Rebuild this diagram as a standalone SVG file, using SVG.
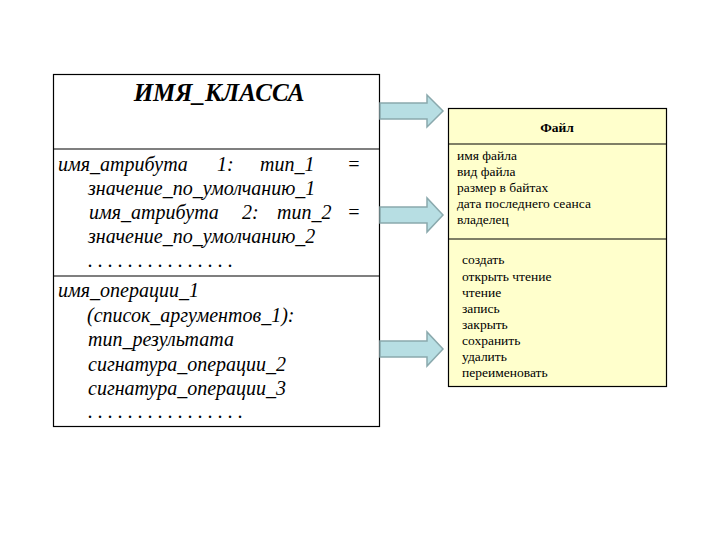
<svg xmlns="http://www.w3.org/2000/svg" width="720" height="540" viewBox="0 0 720 540">
<style>
.box{fill:#fff;stroke:#000;stroke-width:1.2}
.fbox{fill:#FFFFCC;stroke:#000;stroke-width:1.2}
.line{stroke:#000;stroke-width:1.2}
.it{font-style:italic;font-size:20px;fill:#000}
.ttl{font-style:italic;font-weight:bold;font-size:25px;fill:#000}
.sm{font-size:13.5px;fill:#000}
.smb{font-size:13.5px;font-weight:bold;fill:#000}
.arr{fill:#B7DEE3;stroke:#8AA9AD;stroke-width:1.5}
</style>
<rect width="720" height="540" fill="#fff"/>
<g id="class-template" font-family="Liberation Serif, serif">
<rect class="box" x="53.5" y="74.5" width="326" height="352"/>
<line class="line" x1="53.5" y1="149" x2="379.5" y2="149"/>
<line class="line" x1="53.5" y1="276" x2="379.5" y2="276"/>
<text class="ttl" x="219" y="101" text-anchor="middle">ИМЯ_КЛАССА</text>
<text class="it" x="58" y="171">имя_атрибута</text>
<text class="it" x="217" y="171">1:</text>
<text class="it" x="260" y="171">тип_1</text>
<text class="it" x="347" y="171">=</text>
<text class="it" x="88" y="195">значение_по_умолчанию_1</text>
<text class="it" x="89" y="219">имя_атрибута</text>
<text class="it" x="242" y="219">2:</text>
<text class="it" x="277" y="219">тип_2</text>
<text class="it" x="347" y="219">=</text>
<text class="it" x="88" y="243">значение_по_умолчанию_2</text>
<text class="it" x="88" y="267">. . . . . . . . . . . . . . .</text>
<text class="it" x="58" y="297">имя_операции_1</text>
<text class="it" x="87" y="322">(список_аргументов_1):</text>
<text class="it" x="88" y="346">тип_результата</text>
<text class="it" x="88" y="371">сигнатура_операции_2</text>
<text class="it" x="88" y="395">сигнатура_операции_3</text>
<text class="it" x="88" y="418">. . . . . . . . . . . . . . . .</text>
</g>
<g id="file-class" font-family="Liberation Serif, serif">
<rect class="fbox" x="448.5" y="108.5" width="218" height="278"/>
<line class="line" x1="448.5" y1="144" x2="666.5" y2="144"/>
<line class="line" x1="448.5" y1="239" x2="666.5" y2="239"/>
<text class="smb" x="557" y="132" text-anchor="middle">Файл</text>
<text class="sm" x="457" y="160">имя  файла</text>
<text class="sm" x="457" y="176">вид файла</text>
<text class="sm" x="457" y="192">размер в байтах</text>
<text class="sm" x="457" y="208">дата последнего сеанса</text>
<text class="sm" x="457" y="224">владелец</text>
<text class="sm" x="462" y="264">создать</text>
<text class="sm" x="462" y="281">открыть чтение</text>
<text class="sm" x="462" y="297">чтение</text>
<text class="sm" x="462" y="313">запись</text>
<text class="sm" x="462" y="329">закрыть</text>
<text class="sm" x="462" y="345">сохранить</text>
<text class="sm" x="462" y="361">удалить</text>
<text class="sm" x="462" y="377">переименовать</text>
</g>
<g id="connectors">
<polygon class="arr" points="380,103 427,103 427,95 443,111 427,127 427,119 380,119"/>
<polygon class="arr" points="380,207 427,207 427,198 443,215 427,232 427,223 380,223"/>
<polygon class="arr" points="380,341 427,341 427,332 443,349 427,366 427,357 380,357"/>
</g>
</svg>
